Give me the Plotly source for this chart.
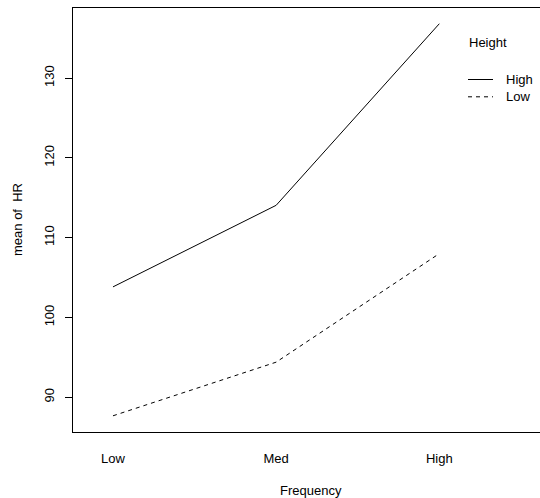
import plotly.graph_objects as go

categories = ["Low", "Med", "High"]
x_pos = [1, 2, 3]
series_names = ["High", "Low"]
hr_high = [103.83, 114.05, 136.8]
hr_low = [87.68, 94.4, 108.0]
y_ticks = [90, 100, 110, 120, 130]

font = dict(family="Liberation Sans, Arial, sans-serif", size=13, color="black")

W, H = 540, 498
l, r, t, b = 73, 0, 8, 66
pw, ph = W - l - r, H - t - b


def px(x):
    return (x - l) / pw


def py(y):
    return (H - b - y) / ph


fig = go.Figure()
fig.add_trace(go.Scatter(x=x_pos, y=hr_high, mode="lines", name=series_names[0],
                         line=dict(color="black", width=1)))
fig.add_trace(go.Scatter(x=x_pos, y=hr_low, mode="lines", name=series_names[1],
                         line=dict(color="black", width=1, dash="4px,4px")))

fig.update_layout(
    width=W, height=H,
    margin=dict(l=l, r=r, t=t, b=b),
    paper_bgcolor="white", plot_bgcolor="white",
    showlegend=False, font=font,
    xaxis=dict(range=[0.755, 3.617], tickvals=x_pos, ticktext=categories,
               showgrid=False, zeroline=False, showline=True, linecolor="black", linewidth=1,
               mirror=True, ticks="outside", ticklen=14, tickcolor="rgba(0,0,0,0)",
               tickfont=font),
    yaxis=dict(range=[85.65, 138.77], tickvals=y_ticks, showgrid=False, zeroline=False,
               showline=True, linecolor="black", linewidth=1, ticks="outside", ticklen=7,
               tickcolor="black", tickangle=-90, tickfont=font, ticklabelstandoff=6,
               mirror=False),
)

# axis titles
fig.add_annotation(x=px(311), y=py(490), xref="paper", yref="paper", text="Frequency",
                   showarrow=False, xanchor="center", yanchor="middle", font=font)
fig.add_annotation(x=px(17), y=py(220), xref="paper", yref="paper", text="mean of&nbsp; HR",
                   showarrow=False, xanchor="center", yanchor="middle", textangle=-90, font=font)

# legend (R-style, drawn manually)
fig.add_annotation(x=px(467), y=py(43), xref="paper", yref="paper", text="Height", showarrow=False,
                   xanchor="left", yanchor="middle", font=font)
legend_rows = [(79.5, series_names[0], "solid"), (96.8, series_names[1], "4px,4px")]
for yy, name, dash in legend_rows:
    fig.add_shape(type="line", xref="paper", yref="paper", x0=px(468), x1=px(493), y0=py(yy), y1=py(yy),
                  line=dict(color="black", width=1, dash=dash))
    fig.add_annotation(x=px(504), y=py(yy), xref="paper", yref="paper", text=name, showarrow=False,
                       xanchor="left", yanchor="middle", font=font)

fig.write_html("out.html", config={"displayModeBar": False},
               post_script="document.body.style.margin='0';document.body.style.overflow='hidden';")
